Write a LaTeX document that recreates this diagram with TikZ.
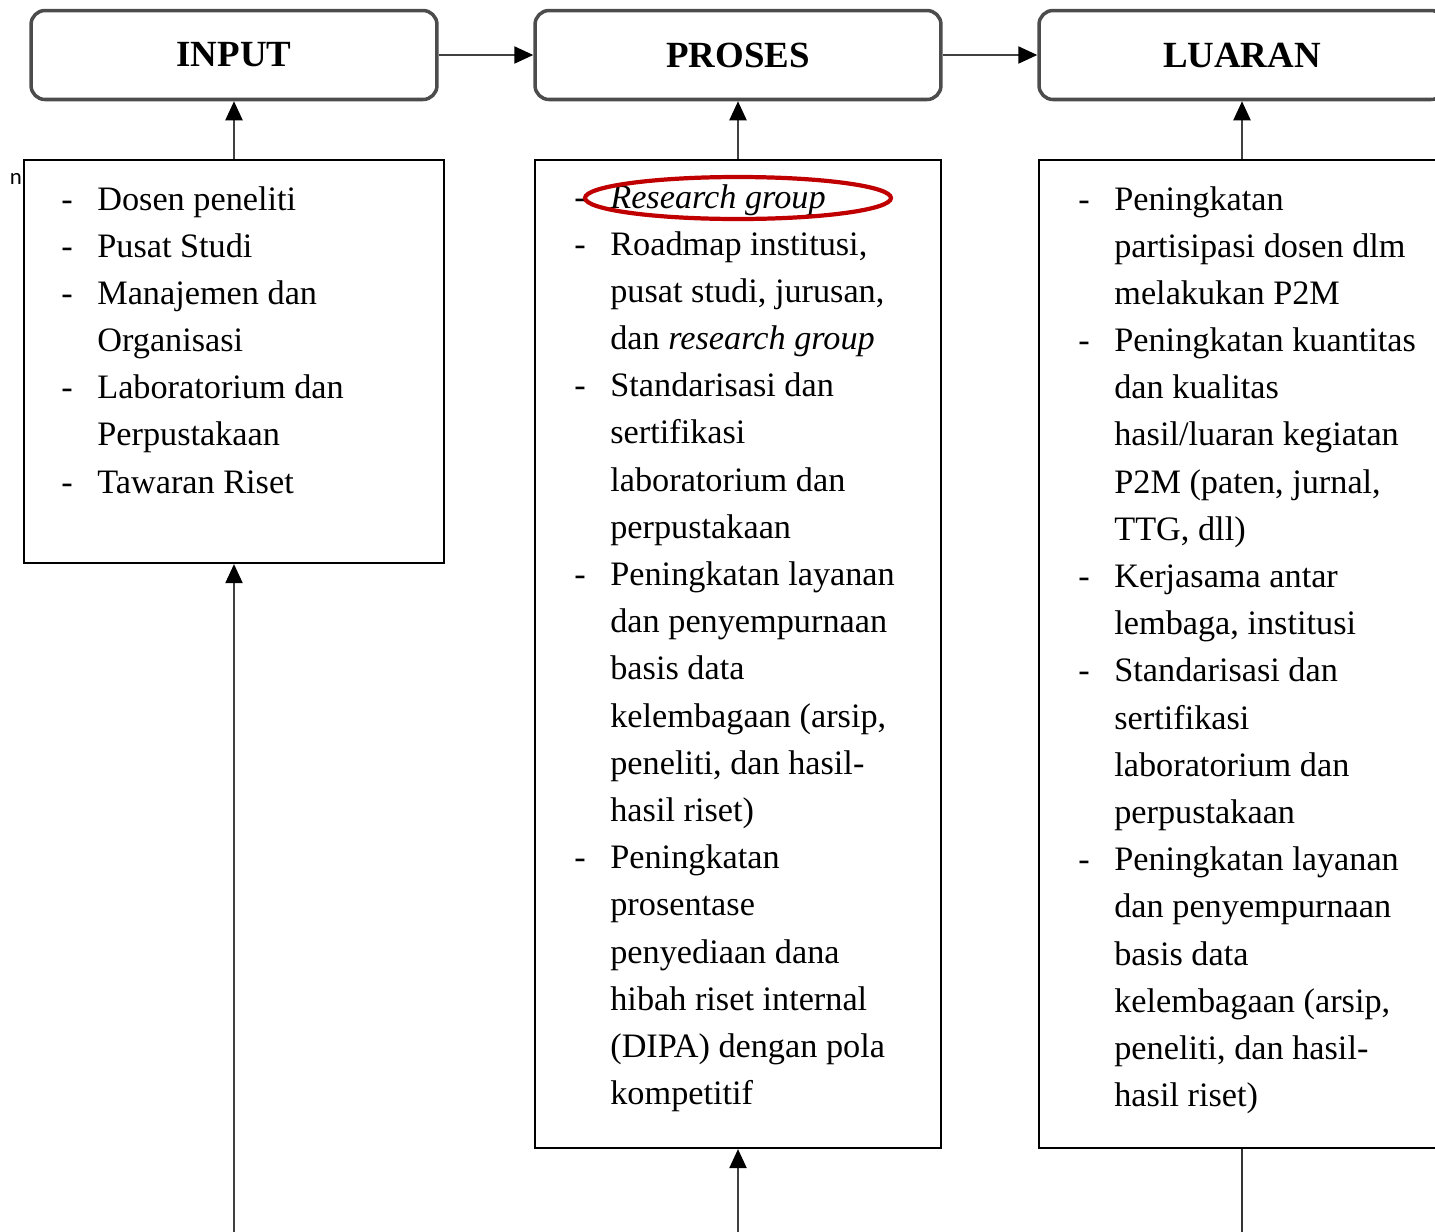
\documentclass[tikz,border=0pt]{standalone}
\usepackage{fontspec}
\setmainfont{Liberation Serif}
\newfontfamily\notefont{Carlito}
\usetikzlibrary{arrows.meta}
\usetikzlibrary{positioning}
\definecolor{ringred}{RGB}{192,0,0}

\tikzset{
  headbox/.style={draw=black!70, line width=2pt, rounded corners=0.28cm,
    minimum width=8.12cm, minimum height=1.78cm,
    font=\fontsize{21}{25}\selectfont\bfseries},
  listbox/.style={draw, line width=1.3pt, inner sep=0pt},
  listtext/.style={anchor=base west, inner sep=0pt,
    font=\fontsize{19.5}{26.86}\selectfont},
  arr/.style={draw=black!75, line width=1.2pt,
    -{Triangle[length=0.38cm,width=0.34cm,fill=black,color=black]}},
  link/.style={draw=black!80, line width=1.2pt},
}

\begin{document}
\begin{tikzpicture}[x=0.02cm,y=-0.02cm]
      \useasboundingbox (0,0) rectangle (1435,1231);
      \clip (0,0) rectangle (1435,1231);
      % top row
      \node[headbox] (input) at (234,55) {INPUT};
      \node[headbox] (proses) at (738,55) {PROSES};
      \node[headbox] (luaran) at (1242,55) {LUARAN};
      \draw[arr] (input.east) -- (proses.west);
      \draw[arr] (proses.east) -- (luaran.west);
      % boxes below
      \node[listbox, minimum width=8.4cm, minimum height=8.06cm] (inbox) at (234,361.5) {};
      \node[listbox, minimum width=8.12cm, minimum height=19.76cm] (prosbox) at (738,654) {};
      \node[listbox, minimum width=8.12cm, minimum height=19.76cm] (outbox) at (1242,654) {};
      \draw[arr] (inbox.north) -- (input.south);
      \draw[arr] (prosbox.north) -- (proses.south);
      \draw[arr] (outbox.north) -- (luaran.south);
      \node[listtext] (intext) at (61,210) {\begin{tabular}[t]{@{}p{0.72cm}@{}l@{}}
        - & Dosen peneliti\\
        - & Pusat Studi\\
        - & Manajemen dan\\
          & Organisasi\\
        - & Laboratorium dan\\
          & Perpustakaan\\
        - & Tawaran Riset
      \end{tabular}};
      \node[listtext] (prostext) at (574,208) {\begin{tabular}[t]{@{}p{0.72cm}@{}l@{}}
        - & \textit{Research group}\\
        - & Roadmap institusi,\\
          & pusat studi, jurusan,\\
          & dan \textit{research group}\\
        - & Standarisasi dan\\
          & sertifikasi\\
          & laboratorium dan\\
          & perpustakaan\\
        - & Peningkatan layanan\\
          & dan penyempurnaan\\
          & basis data\\
          & kelembagaan (arsip,\\
          & peneliti, dan hasil-\\
          & hasil riset)\\
        - & Peningkatan\\
          & prosentase\\
          & penyediaan dana\\
          & hibah riset internal\\
          & (DIPA) dengan pola\\
          & kompetitif
      \end{tabular}};
      \node[listtext] (outtext) at (1078,210) {\begin{tabular}[t]{@{}p{0.72cm}@{}l@{}}
        - & Peningkatan\\
          & partisipasi dosen dlm\\
          & melakukan P2M\\
        - & Peningkatan kuantitas\\
          & dan kualitas\\
          & hasil/luaran kegiatan\\
          & P2M (paten, jurnal,\\
          & TTG, dll)\\
        - & Kerjasama antar\\
          & lembaga, institusi\\
        - & Standarisasi dan\\
          & sertifikasi\\
          & laboratorium dan\\
          & perpustakaan\\
        - & Peningkatan layanan\\
          & dan penyempurnaan\\
          & basis data\\
          & kelembagaan (arsip,\\
          & peneliti, dan hasil-\\
          & hasil riset)
      \end{tabular}};
      % mark round the first item
      \draw[ringred, line width=2.4pt] (738,198) ellipse [x radius=3.06cm, y radius=0.42cm];
      \node[inner sep=0pt, font=\notefont\fontsize{13}{15}\selectfont] (stray) at (16,179) {n};
      % lines from below
      \coordinate (inbottom) at (234,1240);
      \coordinate (prosbottom) at (738,1240);
      \coordinate (outbottom) at (1242,1240);
      \draw[arr] (inbottom) -- (inbox.south);
      \draw[arr] (prosbottom) -- (prosbox.south);
      \draw[link] (outbox.south) -- (outbottom);
    \end{tikzpicture}
\end{document}
